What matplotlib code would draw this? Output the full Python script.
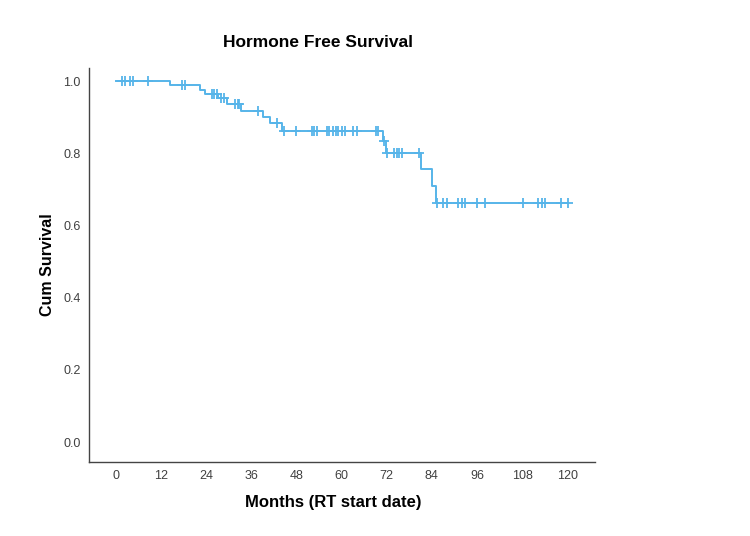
import matplotlib.pyplot as plt
import numpy as np

# Kaplan-Meier steps
event_months = [14.4, 22.3, 23.7, 27.1, 29.5, 33.2, 39.1, 41.0, 44.1, 71.0, 71.8, 81.2, 84.1, 85.2]
surv_levels = [0.990, 0.976, 0.964, 0.952, 0.937, 0.918, 0.900, 0.883, 0.863, 0.834, 0.801, 0.756, 0.709, 0.662]
censor_months = [1.6, 2.4, 3.7, 4.5, 8.5, 17.6, 18.4, 25.5, 26.1, 26.9, 27.9, 28.7,
                 31.7, 32.4, 32.7, 37.8, 42.8, 44.7, 47.9, 52.1, 52.7, 53.5, 56.1,
                 56.6, 57.7, 58.5, 59.0, 60.1, 60.9, 63.0, 64.1, 69.1, 69.7, 71.3,
                 72.0, 73.9, 74.7, 75.3, 76.1, 80.6, 85.4, 87.0, 88.0, 91.0, 92.0,
                 92.8, 96.0, 98.1, 108.2, 112.2, 113.3, 114.1, 118.4, 120.2]
xticks = [0, 12, 24, 36, 48, 60, 72, 84, 96, 108, 120]
yticks = [0.0, 0.2, 0.4, 0.6, 0.8, 1.0]

plt.rcParams['font.family'] = ['Liberation Sans', 'DejaVu Sans']
col = '#56B4E9'

# step curve
t = np.array([0] + event_months + [max(censor_months)])
s = np.array([1.0] + surv_levels + [surv_levels[-1]])

def surv_at(m):
    return s[np.searchsorted(t, m, side='right') - 1]

cy = [surv_at(m) for m in censor_months]

fig = plt.figure(figsize=(7.5, 5.36), dpi=100)
ax = fig.add_axes([0.1187, 0.138, 0.6746, 0.735])
ax.step(t, s, where='post', color=col, lw=1.4)
ax.plot(censor_months, cy, ls='None', marker='+', ms=7, mew=1.3, color=col)

ax.set_xlim(-7.2, 127.4)
ax.set_ylim(-0.055, 1.036)
ax.set_xticks(xticks)
ax.set_xticklabels([str(v) for v in xticks])
ax.set_yticks(yticks)
ax.set_yticklabels(['%.1f' % v for v in yticks])
ax.tick_params(length=0, labelsize=9, labelcolor='#404040', pad=6)
for side in ['top', 'right']:
    ax.spines[side].set_visible(False)
for side in ['left', 'bottom']:
    ax.spines[side].set_color('#444444')
    ax.spines[side].set_linewidth(1.0)

ax.set_ylabel('Cum Survival', fontsize=11.5, fontweight='bold')
ax.yaxis.set_label_coords(-0.068, 0.5)
fig.text(333 / 750, 1 - 503 / 536, 'Months (RT start date)', fontsize=12,
         fontweight='bold', ha='center', va='center')
fig.text(318 / 750, 1 - 42 / 536, 'Hormone Free Survival', fontsize=12.5,
         fontweight='bold', ha='center', va='center')

plt.savefig('out.png', dpi=100)
